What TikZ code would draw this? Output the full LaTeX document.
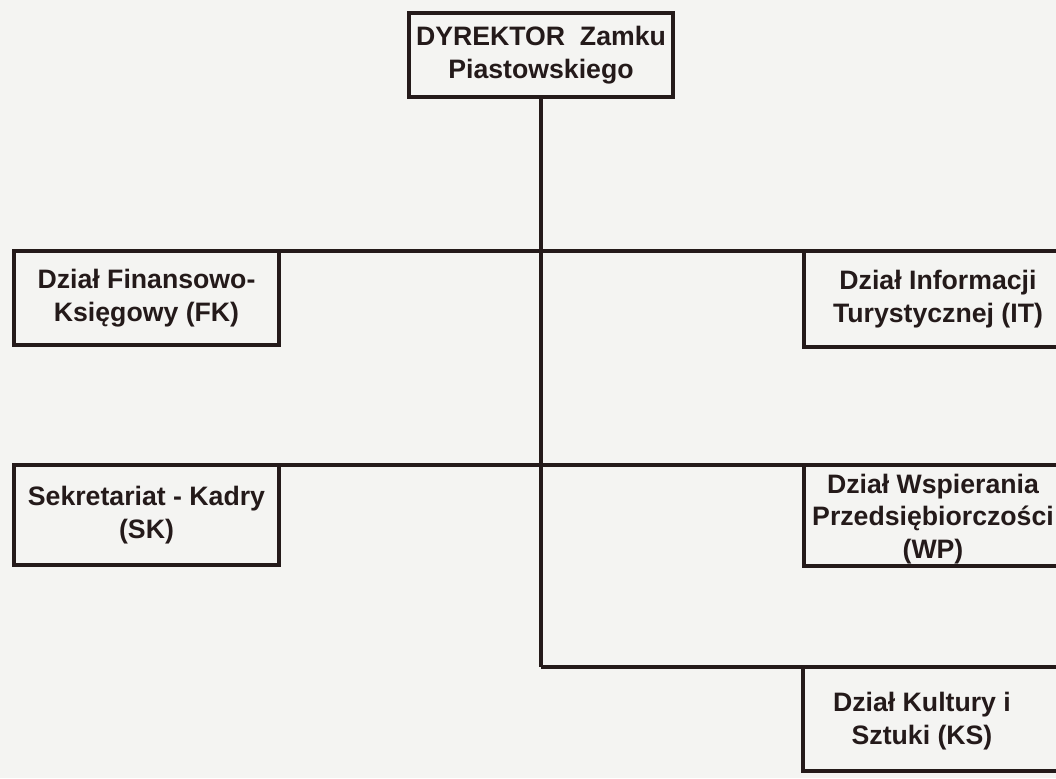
\documentclass[tikz,border=0pt]{standalone}
\usepackage{fontspec}
\setmainfont{Liberation Sans}
\definecolor{ink}{RGB}{36,26,26}
\definecolor{paper}{RGB}{244,244,242}
\begin{document}
\begin{tikzpicture}[x=0.75pt,y=-0.75pt,
  orgbox/.style={draw=ink, line width=3.5pt, inner sep=0pt, outer sep=0pt,
    align=center, text=ink, font=\fontsize{20}{24.5}\selectfont\bfseries},
  sidebox/.style={draw=ink, line width=3.5pt, inner sep=0pt, outer sep=0pt,
    anchor=north west, minimum width=207pt},
  orgtext/.style={inner sep=0pt, align=center, text=ink,
    font=\fontsize{20}{24.5}\selectfont\bfseries},
  hline/.style={draw=ink, line width=3.7pt},
  vline/.style={draw=ink, line width=2.4pt}]
\useasboundingbox (0,0) rectangle (1056,778);
\fill[paper] (0,0) rectangle (1056,778);
\clip (0,0) rectangle (1056,778);

% director
\node[orgbox, minimum width=198pt, minimum height=63pt] (dir) at (541,55)
  {DYREKTOR\ \ Zamku\\Piastowskiego};

% left column
\node[orgbox, minimum width=198.75pt, minimum height=70.5pt] (fk) at (146.5,298)
  {Dział Finansowo-\\Księgowy (FK)};
\node[orgbox, minimum width=198.75pt, minimum height=75pt] (sk) at (146.5,515)
  {Sekretariat - Kadry\\(SK)};

% right column (cut by the page edge)
\node[sidebox, minimum height=72pt] (it) at (804,251) {};
\node[orgtext] (itt) at (938,299) {Dział Informacji\\Turystycznej (IT)};
\node[sidebox, minimum height=75.75pt] (wp) at (804,465) {};
\node[orgtext] (wpt) at (933,519) {Dział Wspierania\\Przedsiębiorczości\\(WP)};
\node[sidebox, minimum height=78pt] (ks) at (803,667) {};
\node[orgtext] (kst) at (922,721) {Dział Kultury i\\Sztuki (KS)};

% connectors
\coordinate (bend) at (541,667);
\draw[hline] (fk.north east) -- (it.north west);
\draw[hline] (sk.north east) -- (wp.north west);
\draw[hline] (bend) -- (ks.north west);
\draw[vline] (dir.south) -- (bend);
\end{tikzpicture}
\end{document}
